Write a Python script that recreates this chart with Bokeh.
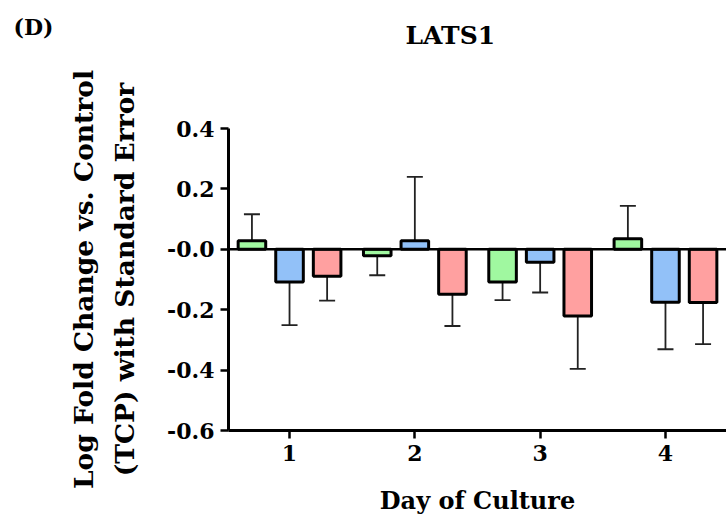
import math
from bokeh.plotting import figure
from bokeh.layouts import column
from bokeh.models import Range1d, FixedTicker, Span, ColumnDataSource, Title, Label
from bokeh.embed import file_html
from bokeh.resources import INLINE

days = [1, 2, 3, 4]
day_labels = ["1", "2", "3", "4"]
green_mean = [0.028, -0.021, -0.108, 0.035]
green_se = [0.088, 0.065, 0.060, 0.109]
blue_mean = [-0.108, 0.028, -0.043, -0.175]
blue_se = [0.143, 0.212, 0.100, 0.156]
red_mean = [-0.089, -0.149, -0.221, -0.176]
red_se = [0.081, 0.105, 0.175, 0.138]
y_ticks = [-0.6, -0.4, -0.2, 0.0, 0.2, 0.4]
y_tick_labels = ["-0.6", "-0.4", "-0.2", "-0.0", "0.2", "0.4"]
title_text = "LATS1"
panel_text = "(D)"
ylabel_1 = "Log Fold Change vs. Control"
ylabel_2 = "(TCP) with Standard Error"
xlabel = "Day of Culture"

FONT = "DejaVu Serif"
HEAD_H = 50
FRAME_LEFT = 228

# header strip (its frame is aligned with the main plot's frame)
head = figure(width=726, height=HEAD_H, output_backend="svg", toolbar_location=None,
              x_range=Range1d(FRAME_LEFT, 726), y_range=Range1d(HEAD_H, 0),
              x_axis_type=None, y_axis_type=None, min_border=0)
head.outline_line_color = None
head.grid.visible = False
head.add_layout(Label(x=405, y=35, text=title_text, text_font=FONT,
                      text_font_style="bold", text_font_size="25px",
                      text_color="black", text_align="left", text_baseline="middle"))
head.add_layout(Title(text=panel_text, text_font=FONT, text_font_style="bold",
                      text_font_size="22px", text_color="black", align="left",
                      offset=13 - FRAME_LEFT, standoff=-78), "above")

p = figure(width=726, height=524 - HEAD_H, output_backend="svg", toolbar_location=None,
           x_range=Range1d(0.513, 4.487), y_range=Range1d(-0.6, 0.4),
           min_border_left=FRAME_LEFT, min_border_top=128 - HEAD_H, min_border_bottom=94,
           min_border_right=0)
p.outline_line_color = None
p.grid.visible = False
p.background_fill_color = "white"

series = [
    (green_mean, green_se, "#a0f8a0", -0.3),
    (blue_mean, blue_se, "#92c1f8", 0.0),
    (red_mean, red_se, "#ffa0a0", 0.3),
]

for means, ses, color, off in series:
    xs = [d + off for d in days]
    tips = [m + (s if m >= 0 else -s) for m, s in zip(means, ses)]
    src = ColumnDataSource(dict(x=xs, top=means, tip=tips))
    p.segment(x0="x", y0="top", x1="x", y1="tip", source=src,
              line_color="#222222", line_width=1.8)
    p.scatter(x="x", y="tip", source=src, marker="dash", size=16,
              line_color="#222222", line_width=1.8)
    p.vbar(x="x", top="top", bottom=0, width=0.22, source=src,
           fill_color=color, line_color="black", line_width=3)

p.add_layout(Span(location=0, dimension="width", line_color="black", line_width=2.5))

# axes
p.yaxis.ticker = FixedTicker(ticks=y_ticks)
p.yaxis.major_label_overrides = {t: l for t, l in zip(y_ticks, y_tick_labels)}
p.xaxis.ticker = FixedTicker(ticks=days)
p.xaxis.major_label_overrides = {d: l for d, l in zip(days, day_labels)}
for ax in (p.xaxis, p.yaxis):
    ax.axis_line_width = 3
    ax.axis_line_color = "black"
    ax.major_tick_line_width = 2.5
    ax.major_tick_line_color = "black"
    ax.major_tick_out = 8
    ax.major_tick_in = 0
    ax.minor_tick_line_color = None
    ax.major_label_text_font = FONT
    ax.major_label_text_font_style = "bold"
    ax.major_label_text_font_size = "22px"
    ax.major_label_text_color = "black"
p.yaxis.major_label_standoff = 6
p.xaxis.major_label_standoff = 6

p.xaxis.axis_label = xlabel
p.xaxis.axis_label_text_font = FONT
p.xaxis.axis_label_text_font_style = "bold"
p.xaxis.axis_label_text_font_size = "24px"
p.xaxis.axis_label_text_color = "black"
p.xaxis.axis_label_standoff = 22

def mk_title(text, size, standoff):
    return Title(text=text, text_font=FONT, text_font_style="bold",
                 text_font_size=size, text_color="black", align="center",
                 standoff=standoff)

p.add_layout(mk_title(ylabel_2, "26.5px", 50), "left")
p.add_layout(mk_title(ylabel_1, "26.5px", -34), "left")

layout = column(head, p, spacing=0)
open("out.html", "w").write(file_html(layout, INLINE))
